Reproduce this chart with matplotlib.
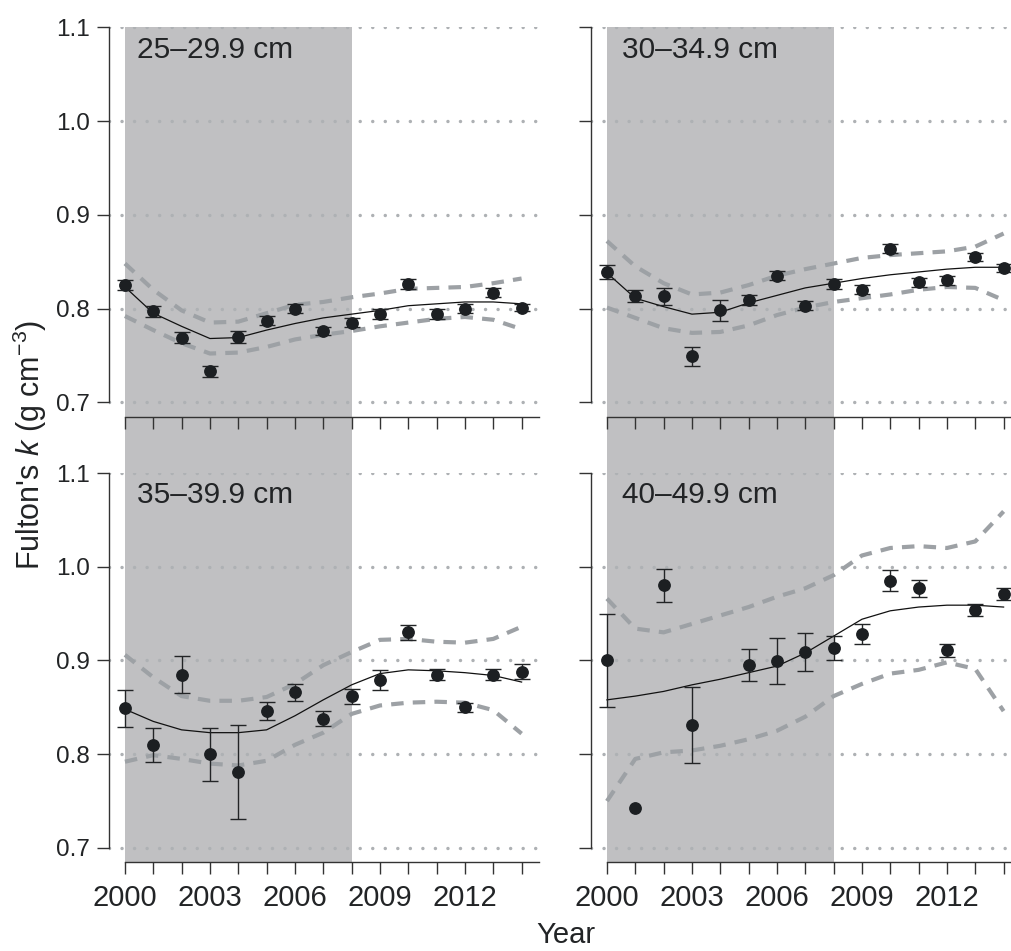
import numpy as np
import matplotlib.pyplot as plt
from matplotlib.patches import Rectangle
from matplotlib.transforms import blended_transform_factory

plt.rcParams['font.family'] = ['Liberation Sans', 'DejaVu Sans']
plt.rcParams['mathtext.fontset'] = 'custom'
plt.rcParams['mathtext.rm'] = 'Liberation Sans'
plt.rcParams['mathtext.it'] = 'Liberation Sans:italic'

years = list(range(2000, 2015))
shade_years = (2000, 2008)
nan = np.nan

# 25-29.9 cm
k_25 = [0.825, 0.797, 0.769, 0.733, 0.770, 0.787, 0.800, 0.776, 0.785, 0.794, 0.826, 0.794, 0.800, 0.817, 0.801]
se_25 = [0.005, 0.006, 0.006, 0.006, 0.0065, 0.005, 0.005, 0.0045, 0.005, 0.005, 0.005, 0.005, 0.005, 0.005, 0.004]
fit_25 = [0.823, 0.795, 0.781, 0.768, 0.769, 0.777, 0.784, 0.790, 0.794, 0.798, 0.803, 0.805, 0.807, 0.807, 0.805]
hi_25 = [0.848, 0.820, 0.798, 0.785, 0.786, 0.795, 0.804, 0.807, 0.812, 0.816, 0.821, 0.822, 0.823, 0.827, 0.832]
lo_25 = [0.792, 0.777, 0.763, 0.752, 0.753, 0.759, 0.767, 0.772, 0.776, 0.781, 0.785, 0.789, 0.791, 0.788, 0.778]

# 30-34.9 cm
k_30 = [0.839, 0.813, 0.813, 0.749, 0.798, 0.809, 0.835, 0.803, 0.826, 0.820, 0.864, 0.828, 0.830, 0.855, 0.843]
se_30 = [0.007, 0.0065, 0.009, 0.010, 0.011, 0.005, 0.005, 0.005, 0.0055, 0.005, 0.005, 0.005, 0.0045, 0.0045, 0.004]
fit_30 = [0.838, 0.811, 0.802, 0.794, 0.796, 0.806, 0.814, 0.822, 0.827, 0.832, 0.836, 0.839, 0.842, 0.844, 0.844]
hi_30 = [0.872, 0.845, 0.827, 0.815, 0.817, 0.825, 0.835, 0.842, 0.848, 0.854, 0.857, 0.859, 0.861, 0.866, 0.880]
lo_30 = [0.801, 0.790, 0.779, 0.774, 0.775, 0.782, 0.793, 0.801, 0.807, 0.811, 0.815, 0.820, 0.823, 0.822, 0.809]

# 35-39.9 cm
k_35 = [0.849, 0.810, 0.885, 0.800, 0.781, 0.846, 0.866, 0.838, 0.862, 0.879, 0.930, 0.885, 0.850, 0.885, 0.888]
se_35 = [0.0196, 0.018, 0.020, 0.0285, 0.050, 0.0095, 0.0093, 0.008, 0.008, 0.011, 0.008, 0.006, 0.0045, 0.006, 0.008]
fit_35 = [0.848, 0.835, 0.826, 0.823, 0.823, 0.826, 0.841, 0.858, 0.874, 0.886, 0.890, 0.889, 0.887, 0.884, 0.877]
hi_35 = [0.906, 0.882, 0.862, 0.857, 0.857, 0.861, 0.875, 0.895, 0.909, 0.922, 0.923, 0.920, 0.919, 0.923, 0.936]
lo_35 = [0.792, 0.799, 0.795, 0.790, 0.788, 0.793, 0.810, 0.823, 0.843, 0.852, 0.855, 0.856, 0.855, 0.847, 0.822]

# 40-49.9 cm (no sample in 2004)
k_40 = [0.900, 0.743, 0.980, 0.831, nan, 0.895, 0.899, 0.909, 0.913, 0.928, 0.985, 0.977, 0.911, 0.954, 0.971]
se_40 = [0.050, nan, 0.0177, 0.0407, nan, 0.017, 0.0245, 0.020, 0.0127, 0.0104, 0.0113, 0.0093, 0.0068, 0.0066, 0.0064]
fit_40 = [0.858, 0.862, 0.867, 0.874, 0.880, 0.887, 0.894, 0.908, 0.926, 0.944, 0.953, 0.957, 0.959, 0.959, 0.957]
hi_40 = [0.966, 0.934, 0.930, 0.939, 0.948, 0.957, 0.968, 0.977, 0.991, 1.012, 1.020, 1.022, 1.020, 1.027, 1.059]
lo_40 = [0.750, 0.795, 0.802, 0.804, 0.809, 0.816, 0.825, 0.840, 0.862, 0.875, 0.886, 0.890, 0.898, 0.891, 0.846]

panels = [
    ("25\u201329.9 cm", k_25, se_25, fit_25, hi_25, lo_25),
    ("30\u201334.9 cm", k_30, se_30, fit_30, hi_30, lo_30),
    ("35\u201339.9 cm", k_35, se_35, fit_35, hi_35, lo_35),
    ("40\u201349.9 cm", k_40, se_40, fit_40, hi_40, lo_40),
]

W, H = 1011, 951
fig = plt.figure(figsize=(W / 100, H / 100), dpi=100)

# axes boxes in pixels: left, top, width, height
ax_w, ax_h = 429.8, 389.4
lefts = [108.8, 590.8]
tops = [27.3, 473.0]

axes = []
for r in range(2):
    for c in range(2):
        ax = fig.add_axes([lefts[c] / W, 1 - (tops[r] + ax_h) / H, ax_w / W, ax_h / H])
        ax.set_facecolor('none')
        axes.append(ax)

dark = '#222426'
for i, (ax, (label, k, se, fit, hi, lo)) in enumerate(zip(axes, panels)):
    ax.set_xlim(1999.43, 2014.6)
    ax.set_ylim(0.6846, 1.1)

    ax.plot(years, hi, color='#9da1a5', lw=3, dashes=(3, 2.2), zorder=2)
    ax.plot(years, lo, color='#9da1a5', lw=3, dashes=(3, 2.2), zorder=2)
    ax.plot(years, fit, color='#111111', lw=0.9, zorder=3)
    ax.errorbar(years, k, yerr=se, fmt='o', color='#1c1f22', ms=8.2,
                ecolor=dark, elinewidth=1, capsize=5.7, capthick=1, zorder=4)

    ax.text(0.065 if i % 2 == 0 else 0.072, 0.922, label, transform=ax.transAxes,
            fontsize=21.5, color=dark, va='baseline', ha='left')

    ax.set_yticks([0.7, 0.8, 0.9, 1.0, 1.1])
    ax.set_xticks([2000, 2003, 2006, 2009, 2012])
    ax.set_xticks(years, minor=True)
    ax.yaxis.set_major_formatter(plt.FormatStrFormatter('%.1f'))
    ax.grid(axis='y', linestyle=(0, (0.01, 3.6)), linewidth=2.5, color='#aeb1b4',
            dash_capstyle='round', zorder=1)
    ax.set_axisbelow(True)

    for side in ('top', 'right'):
        ax.spines[side].set_visible(False)
    ax.spines['left'].set_bounds(0.7, 1.1)
    ax.spines['bottom'].set_bounds(2000, 2014.6)
    for side in ('left', 'bottom'):
        ax.spines[side].set_color('#333333')
        ax.spines[side].set_linewidth(1)

    ax.tick_params(which='both', direction='out', length=8.6, width=1, color='#333333')
    ax.tick_params(axis='x', labelsize=21, pad=7, labelcolor=dark)
    ax.tick_params(axis='y', labelsize=17.5, pad=5, labelcolor=dark)
    if i % 2 == 1:
        ax.tick_params(axis='y', labelleft=False)
    if i < 2:
        ax.tick_params(axis='x', labelbottom=False)

# grey band for 2000-2008, running through both rows of panels
y_bottom = 1 - (tops[1] + ax_h) / H
y_top = 1 - tops[0] / H
for ax in axes[:2]:
    trans = blended_transform_factory(ax.transData, fig.transFigure)
    ax.add_patch(Rectangle((shade_years[0], y_bottom), shade_years[1] - shade_years[0],
                           y_top - y_bottom, transform=trans, facecolor='#c0c0c2',
                           edgecolor='none', clip_on=False, zorder=0))

fig.text(0.56, 1 - 935 / H, 'Year', fontsize=21, color=dark, ha='center', va='center')
fig.text(0.03, 0.532, "Fulton's $k$ (g cm$^{-3}$)", fontsize=22, color=dark,
         rotation=90, ha='center', va='center')

fig.savefig('out.png', dpi=100)
